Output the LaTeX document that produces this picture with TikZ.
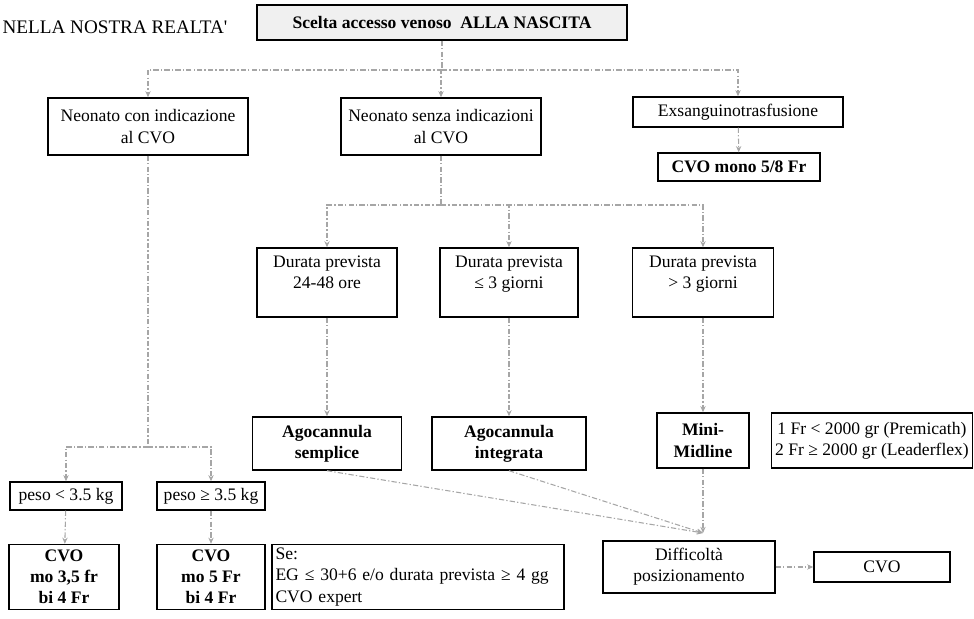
\documentclass[tikz,border=0pt]{standalone}
\usepackage{fontspec}
\setmainfont{Liberation Serif}
\usetikzlibrary{arrows.meta}

\tikzset{
  box/.style={draw,thick,align=center,inner sep=2pt},
  bbox/.style={box,font=\bfseries},
  link/.style={gray!70,dash pattern=on 3pt off 1.2pt on 0.8pt off 1.2pt,semithick},
  >={Stealth[length=3.5pt,width=3pt]}
}

\begin{document}
\begin{tikzpicture}[x=0.2mm,y=-0.2mm]
\useasboundingbox (0,0) rectangle (974,619);
% livello superiore
\node[font=\fontsize{10.9}{13}\selectfont] (realta) at (115,27) {NELLA NOSTRA REALTA\textquotesingle};
\node[bbox,fill=gray!12,minimum width=370*0.2mm,minimum height=35*0.2mm] (scelta) at (442,22.5) {Scelta accesso venoso\ \ ALLA NASCITA};
\node[box,minimum width=200*0.2mm,minimum height=57*0.2mm] (con) at (148,126.5) {Neonato con indicazione\\al CVO};
\node[box,minimum width=200*0.2mm,minimum height=57*0.2mm] (senza) at (441,126.5) {Neonato senza indicazioni\\al CVO};
\node[box,minimum width=210*0.2mm,minimum height=30*0.2mm] (exsang) at (738,112) {Exsanguinotrasfusione};
\node[bbox,minimum width=162*0.2mm,minimum height=28*0.2mm] (mono) at (739,167) {CVO mono 5/8 Fr};
\coordinate (top) at (442,70);
\draw[link] (scelta.south) -- (top);
\draw[link,->] (top) -| (con.north);
\draw[link,->] (top) -| (senza.north);
\draw[link,->] (top) -| (exsang.north);
\draw[link,->] (exsang) -- (mono);
% durata prevista
\node[box,minimum width=140*0.2mm,minimum height=69*0.2mm] (dur1) at (327,282.5) {Durata prevista\\24-48 ore\\\mbox{}};
\node[box,minimum width=138*0.2mm,minimum height=69*0.2mm] (dur2) at (509,282.5) {Durata prevista\\≤ 3 giorni\\\mbox{}};
\node[box,minimum width=141*0.2mm,minimum height=69*0.2mm] (dur3) at (703,282.5) {Durata prevista\\> 3 giorni\\\mbox{}};
\coordinate (mid) at (441,205);
\draw[link] (senza.south) -- (mid);
\draw[link,->] (mid) -| (dur1.north);
\draw[link,->] (mid) -| (dur2.north);
\draw[link,->] (mid) -| (dur3.north);
% presidi
\node[bbox,minimum width=149*0.2mm,minimum height=53*0.2mm] (sempl) at (327,443.5) {Agocannula\\semplice};
\node[bbox,minimum width=154*0.2mm,minimum height=53*0.2mm] (integ) at (509,443.5) {Agocannula\\integrata};
\node[bbox,minimum width=92*0.2mm,minimum height=55*0.2mm] (mini) at (703,440.5) {Mini-\\Midline};
\node[box,minimum width=200*0.2mm,minimum height=55*0.2mm] (prem) at (872,440.5) {1 Fr < 2000 gr (Premicath)\\2 Fr ≥ 2000 gr (Leaderflex)};
\draw[link,->] (dur1) -- (sempl);
\draw[link,->] (dur2) -- (integ);
\draw[link,->] (dur3) -- (mini);
% difficolta
\node[box,minimum width=172*0.2mm,minimum height=52*0.2mm] (diff) at (689,567) {Difficoltà\\posizionamento};
\node[box,minimum width=136*0.2mm,minimum height=30*0.2mm] (cvo3) at (882,567) {CVO};
\coordinate (conv) at (703,533);
\draw[link,->] (sempl.south) -- (conv);
\draw[link,->] (integ.south) -- (conv);
\draw[link,->] (mini.south) -- (conv);
\draw[link,->] (diff.east) -- (cvo3.west);
% peso
\node[box,minimum width=112*0.2mm,minimum height=28*0.2mm] (peso1) at (66,496) {peso < 3.5 kg};
\node[box,minimum width=108*0.2mm,minimum height=28*0.2mm] (peso2) at (211,496) {peso ≥ 3.5 kg};
\node[bbox,minimum width=110*0.2mm,minimum height=65*0.2mm] (cvo1) at (64,577) {CVO\\mo 3,5 fr\\bi 4 Fr};
\node[bbox,minimum width=108*0.2mm,minimum height=65*0.2mm] (cvo2) at (211,577) {CVO\\mo 5 Fr\\bi 4 Fr};
\node[box,align=left,text width=285*0.2mm,minimum height=65*0.2mm] (se) at (418,577) {Se:\\EG ≤ 30+6 e/o durata prevista ≥ 4 gg\\CVO expert};
\coordinate (low) at (148,447);
\draw[link] (con.south) -- (low);
\draw[link,->] (low) -| (peso1.north);
\draw[link,->] (low) -| (peso2.north);
\draw[link,->] (peso1) -- (cvo1);
\draw[link,->] (peso2) -- (cvo2);
\end{tikzpicture}
\end{document}
